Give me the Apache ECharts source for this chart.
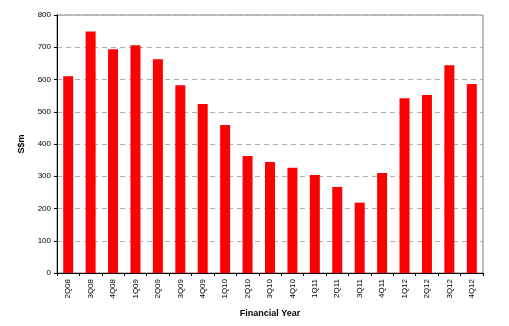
<!DOCTYPE html>
<html>
<head>
<meta charset="utf-8">
<script src="https://cdn.jsdelivr.net/npm/echarts@6/dist/echarts.min.js"></script>
<style>
  html, body { margin: 0; padding: 0; background: #fff; }
  #chart { width: 509px; height: 326px; }
</style>
</head>
<body>
<div id="chart"></div>
<script>
// Quarterly figures, S$ millions
const quarters = ['2Q08','3Q08','4Q08','1Q09','2Q09','3Q09','4Q09','1Q10','2Q10','3Q10',
                  '4Q10','1Q11','2Q11','3Q11','4Q11','1Q12','2Q12','3Q12','4Q12'];
const values = [610, 749, 694, 706, 663, 582, 524, 459, 363, 344,
                326, 304, 267, 218, 310, 542, 552, 644, 586];
const yTicks = [0, 100, 200, 300, 400, 500, 600, 700, 800];

const chart = echarts.init(document.getElementById('chart'), null, { renderer: 'canvas' });

chart.setOption({
  animation: false,
  backgroundColor: '#ffffff',
  textStyle: { fontFamily: 'Liberation Sans, Arial, sans-serif' },
  grid: {
    left: 57, right: 26, top: 15, bottom: 53,
    show: true, borderColor: '#808080', borderWidth: 1, backgroundColor: 'transparent'
  },
  xAxis: {
    type: 'category',
    data: quarters,
    name: 'Financial Year',
    nameLocation: 'middle',
    nameGap: 36,
    nameTextStyle: { fontSize: 9, fontWeight: 'bold', color: '#000' },
    axisLine: { lineStyle: { color: '#000', width: 1 } },
    axisTick: { show: true, length: 3, lineStyle: { color: '#000' } },
    axisLabel: { rotate: 90, fontSize: 8, color: '#000', margin: 6 }
  },
  yAxis: {
    type: 'value',
    min: yTicks[0],
    max: yTicks[yTicks.length - 1],
    interval: 100,
    name: 'S$m',
    nameLocation: 'middle',
    nameGap: 31,
    nameRotate: 90,
    nameTextStyle: { fontSize: 9, fontWeight: 'bold', color: '#000' },
    axisLine: { show: true, lineStyle: { color: '#000', width: 1 } },
    axisTick: { show: true, length: 3, lineStyle: { color: '#000' } },
    axisLabel: { fontSize: 8, color: '#000', margin: 6 },
    splitLine: { show: true, lineStyle: { color: '#b0b0b0', type: [5, 4], width: 1 } }
  },
  series: [{
    type: 'bar',
    data: values,
    barWidth: 10,
    itemStyle: { color: '#ff0000' }
  }]
});
</script>
</body>
</html>
